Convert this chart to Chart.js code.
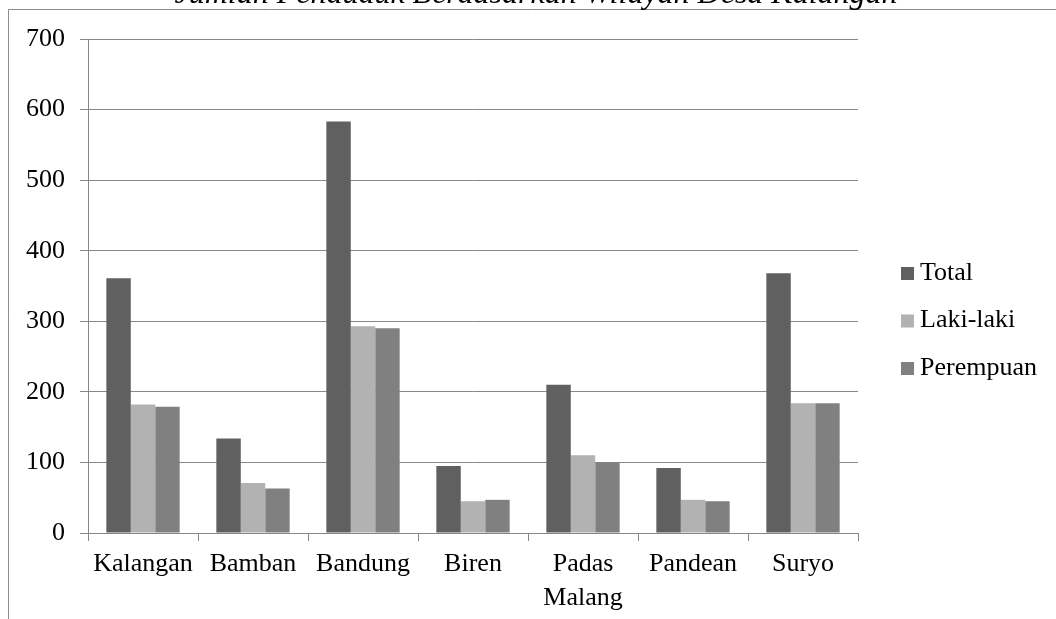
<!DOCTYPE html>
<html>
<head>
<meta charset="utf-8">
<title>Jumlah Penduduk Berdasarkan Wilayah Desa Kalangan</title>
<script src="https://cdn.jsdelivr.net/npm/chart.js@4/dist/chart.umd.min.js"></script>
<style>
  html, body { margin: 0; padding: 0; background: #ffffff; overflow: hidden; }
  #wrap { position: absolute; left: 0; top: 0; width: 1056px; height: 619px; }
</style>
</head>
<body>
<div id="wrap"><canvas id="chart" width="1056" height="619"></canvas></div>
<script>
// Population per hamlet of Desa Kalangan
const titleText = 'Jumlah Penduduk Berdasarkan Wilayah Desa Kalangan';
const categories = ['Kalangan', 'Bamban', 'Bandung', 'Biren', ['Padas', 'Malang'], 'Pandean', 'Suryo'];
const seriesNames = ['Total', 'Laki-laki', 'Perempuan'];
const total = [361, 134, 583, 95, 210, 92, 368];
const lakiLaki = [182, 71, 293, 45, 110, 47, 184];
const perempuan = [179, 63, 290, 47, 100, 45, 184];
const yTicks = [0, 100, 200, 300, 400, 500, 600, 700];

const colors = ['#606060', '#b2b2b2', '#808080'];
const gridColor = '#878787';
const serif = '"Liberation Serif", "Times New Roman", serif';

// Outer frame, cut-off heading and the legend on the right
const decorations = {
  id: 'decorations',
  afterDraw(chart) {
    const ctx = chart.ctx;
    ctx.save();
    ctx.strokeStyle = '#8c8c8c';
    ctx.lineWidth = 1;
    ctx.beginPath();
    ctx.moveTo(8.5, 619);
    ctx.lineTo(8.5, 9.5);
    ctx.lineTo(1056, 9.5);
    ctx.stroke();

    ctx.fillStyle = '#000000';
    ctx.font = 'italic 32px ' + serif;
    ctx.textAlign = 'center';
    ctx.textBaseline = 'alphabetic';
    ctx.fillText(titleText, 536, 3);

    ctx.font = '26px ' + serif;
    ctx.textAlign = 'left';
    chart.data.datasets.forEach((ds, i) => {
      const y = 267 + i * 47.5;
      ctx.fillStyle = ds.backgroundColor;
      ctx.fillRect(901, y, 13, 13);
      ctx.fillStyle = '#000000';
      ctx.fillText(ds.label, 920, y + 12.5);
    });
    ctx.restore();
  }
};

new Chart(document.getElementById('chart'), {
  type: 'bar',
  data: {
    labels: categories,
    datasets: [
      { label: seriesNames[0], data: total, backgroundColor: colors[0] },
      { label: seriesNames[1], data: lakiLaki, backgroundColor: colors[1] },
      { label: seriesNames[2], data: perempuan, backgroundColor: colors[2] }
    ]
  },
  options: {
    responsive: false,
    animation: false,
    devicePixelRatio: 1,
    layout: { padding: { top: 39, right: 198, bottom: 0, left: 0 } },
    datasets: { bar: { categoryPercentage: 2 / 3, barPercentage: 1, borderWidth: 0 } },
    plugins: {
      legend: { display: false },
      title: { display: false },
      tooltip: { enabled: false }
    },
    scales: {
      x: {
        offset: true,
        afterFit(scale) { scale.height = 86; },
        grid: {
          offset: true,
          drawOnChartArea: false,
          drawTicks: true,
          tickLength: 8,
          color: gridColor,
          lineWidth: 1
        },
        border: { display: true, color: gridColor, width: 1 },
        ticks: {
          color: '#000000',
          padding: 6,
          maxRotation: 0,
          autoSkip: false,
          font: { family: serif, size: 26, lineHeight: 1.3 }
        }
      },
      y: {
        min: 0,
        max: 700,
        afterFit(scale) { scale.width = 88; },
        afterBuildTicks(scale) { scale.ticks = yTicks.map(v => ({ value: v })); },
        grid: {
          drawOnChartArea: true,
          drawTicks: true,
          tickLength: 8,
          color: gridColor,
          lineWidth: 1
        },
        border: { display: true, color: gridColor, width: 1 },
        ticks: {
          color: '#000000',
          padding: 15,
          font: { family: serif, size: 26 }
        }
      }
    }
  },
  plugins: [decorations]
});
</script>
</body>
</html>
